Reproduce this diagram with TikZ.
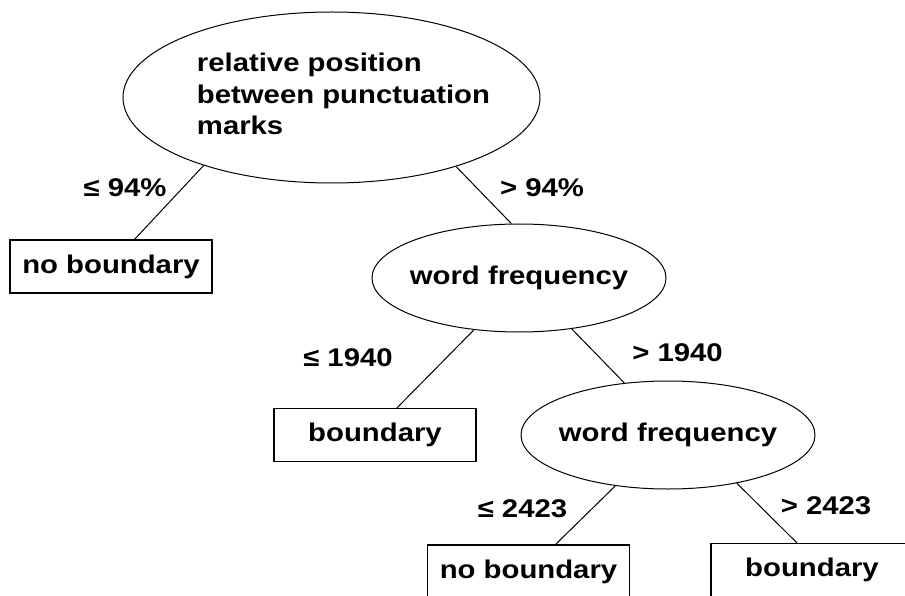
\documentclass[tikz,border=0pt]{standalone}
\usepackage{fontspec}
\usepackage{tikz}
\usetikzlibrary{shapes.geometric}
\newfontfamily\treefont{Liberation Sans}[FakeStretch=1.145]
\tikzset{
	testnode/.style={draw, ellipse, line width=1pt, inner sep=0pt, font=\treefont\bfseries\fontsize{25.6}{31.5}\selectfont},
	leafbox/.style={draw, rectangle, line width=1.2pt, minimum width=202pt, minimum height=53pt, inner sep=0pt, font=\treefont\bfseries\fontsize{25.6}{31.5}\selectfont},
	cond/.style={anchor=base, inner sep=0pt, font=\treefont\bfseries\fontsize{25.6}{31.5}\selectfont},
	branch/.style={line width=1pt}
}

\begin{document}
\begin{tikzpicture}[x=1pt, y=-1pt]
	
		% Fix the page.
		\useasboundingbox (0,0) rectangle (905,596);
		\clip (0,0) rectangle (905,596);
		
		% Draw test nodes.
		\node[testnode, minimum width=417pt, minimum height=171pt] (pos) at (331.5, 97.5) {};
		\node[cond, anchor=center, align=left] (postext) at (343.5, 94) {relative position\\between punctuation\\marks};
		\node[testnode, minimum width=294pt, minimum height=108pt] (freqa) at (519, 278) {\makebox[0pt]{word frequency}};
		\node[testnode, minimum width=294pt, minimum height=108pt] (freqb) at (668, 435) {\makebox[0pt]{word frequency}};
		
		% Draw leaves.
		\node[leafbox] (nob) at (111, 266.5) {no boundary};
		\node[leafbox] (bnda) at (375, 435) {boundary};
		\node[leafbox] (nobb) at (528.5, 571.5) {no boundary};
		\node[leafbox] (bndb) at (812, 570) {boundary};
		
		% Draw branches.
		\draw[branch] (pos.208) -- (nob.49);
		\draw[branch] (pos.331.5) -- (freqa.98);
		\draw[branch] (freqa.229) -- (bnda.51);
		\draw[branch] (freqa.316) -- (freqb.130);
		\draw[branch] (freqb.224) -- (nobb.45);
		\draw[branch] (freqb.325) -- (bndb.119);
		
		% Branch conditions.
		\node[cond] (le94) at (125, 197) {≤ 94\%};
		\node[cond] (gt94) at (542, 197) {> 94\%};
		\node[cond] (le1940) at (348, 366) {≤ 1940};
		\node[cond] (gt1940) at (677.5, 361) {> 1940};
		\node[cond] (le2423) at (522.5, 517) {≤ 2423};
		\node[cond] (gt2423) at (826, 514) {> 2423};
		
\end{tikzpicture}
\end{document}
